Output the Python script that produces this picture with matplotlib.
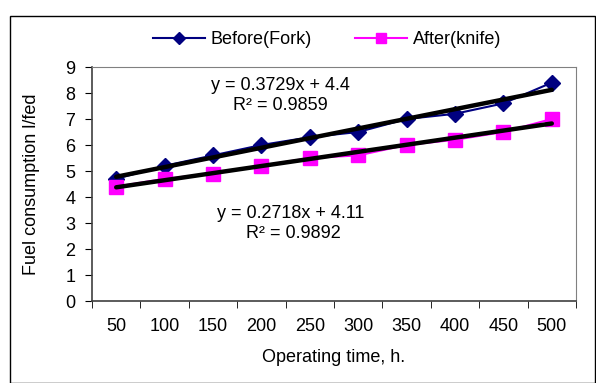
import matplotlib
matplotlib.use("Agg")
import matplotlib.pyplot as plt
from matplotlib.patches import Rectangle
from matplotlib.lines import Line2D
import numpy as np

plt.rcParams['font.family'] = ['Liberation Sans', 'DejaVu Sans']

categories = ['50', '100', '150', '200', '250', '300', '350', '400', '450', '500']
before_fork = [4.7, 5.2, 5.6, 6.0, 6.3, 6.5, 7.0, 7.2, 7.6, 8.4]
after_knife = [4.4, 4.7, 4.9, 5.2, 5.5, 5.6, 6.0, 6.2, 6.5, 7.0]
yticks = [0, 1, 2, 3, 4, 5, 6, 7, 8, 9]

FS = 13
W, H = 596, 383
fig = plt.figure(figsize=(W/100, H/100), dpi=100)
ax = fig.add_axes([92/W, 1-301/H, (576-92)/W, (301-67)/H])

x = np.arange(1, len(categories)+1)
ax.plot(x, before_fork, color='#000080', lw=1.5, marker='D', ms=8, zorder=3)
ax.plot(x, after_knife, color='#FF00FF', lw=1.5, marker='s', ms=10, zorder=3)

for ys in (before_fork, after_knife):
    p = np.polyfit(x, ys, 1)
    ax.plot(x, np.polyval(p, x), color='black', lw=3.2, zorder=4, solid_capstyle='round')

ax.set_xlim(0.5, len(categories)+0.5)
ax.set_ylim(0, 9)
ax.set_yticks(yticks)
ax.set_xticks(x)
ax.set_xticklabels(categories)
ax.set_xticks(np.arange(0.5, len(categories)+1, 1), minor=True)
ax.tick_params(axis='x', which='major', length=0, pad=12, labelsize=FS)
ax.tick_params(axis='x', which='minor', length=5, direction='out')
ax.tick_params(axis='y', length=5, direction='out', labelsize=FS, pad=7)

for s in ['top', 'right']:
    ax.spines[s].set_color('#808080')
for s in ['left', 'bottom']:
    ax.spines[s].set_color('#404040')
    ax.spines[s].set_linewidth(1.2)

ax.set_ylabel('Fuel consumption l/fed', fontsize=FS)
ax.yaxis.set_label_coords((32-92)/(576-92), 0.5)
ax.set_xlabel('Operating time, h.', fontsize=FS)
ax.xaxis.set_label_coords(0.5, -(357-301)/(301-67))
ax.xaxis.label.set_va('center')
ax.yaxis.label.set_va('center')

fig.text(280/W, 1-86/H, 'y = 0.3729x + 4.4', ha='center', va='center', fontsize=FS)
fig.text(280/W, 1-106/H, 'R² = 0.9859', ha='center', va='center', fontsize=FS)
fig.text(291/W, 1-214/H, 'y = 0.2718x + 4.11', ha='center', va='center', fontsize=FS)
fig.text(293/W, 1-233/H, 'R² = 0.9892', ha='center', va='center', fontsize=FS)

# legend
h1 = Line2D([], [], color='#000080', lw=1.5, marker='D', ms=6)
h2 = Line2D([], [], color='#FF00FF', lw=1.5, marker='s', ms=7)
fig.legend([h1, h2], ['Before(Fork)', 'After(knife)'], loc='center',
           bbox_to_anchor=(327/W, 1-40/H), ncol=2, frameon=False, fontsize=FS,
           handlelength=2.9, columnspacing=2.4, handletextpad=0.3, borderpad=0)

fig.patches.append(Rectangle((10/W, 0), (W-11)/W, 1-16/H, transform=fig.transFigure,
                             fill=False, edgecolor='black', lw=1))

fig.savefig('out.png', dpi=100)
